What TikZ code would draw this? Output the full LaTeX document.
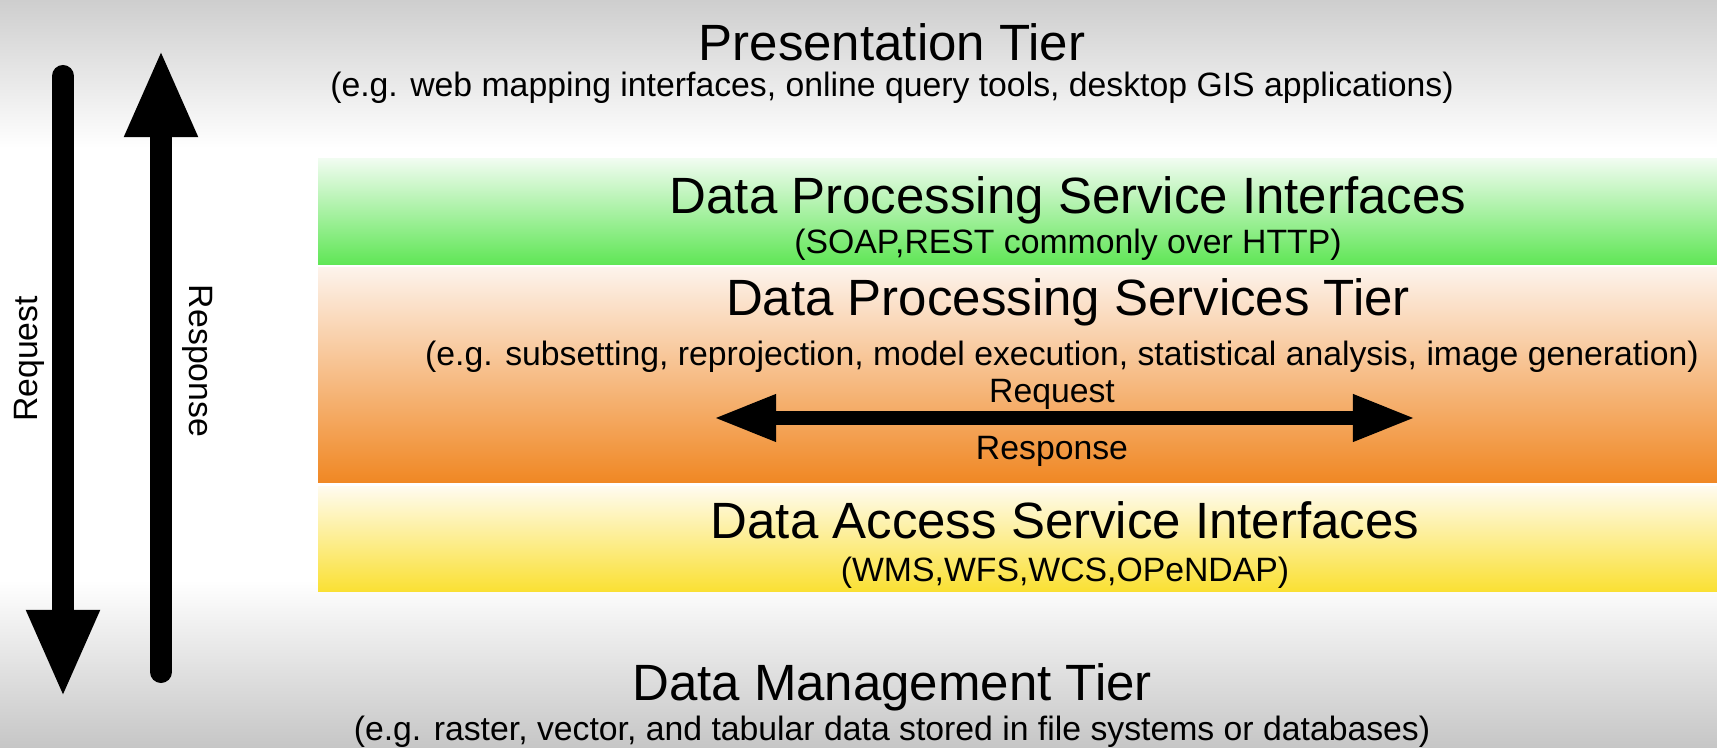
\documentclass[tikz,border=0pt]{standalone}
\usepackage{fontspec}
\setmainfont{Liberation Sans}
\usepackage{tikz}
\usetikzlibrary{arrows.meta}
\tikzset{>=Triangle}

\definecolor{bgtop}{RGB}{206,206,206}
\definecolor{bgbot}{RGB}{198,198,198}
\definecolor{greentop}{RGB}{240,252,240}
\definecolor{greenmid}{RGB}{140,240,140}
\definecolor{greenbot}{RGB}{95,230,85}
\definecolor{orangetop}{RGB}{253,243,235}
\definecolor{orangebot}{RGB}{240,135,35}
\definecolor{yellowtop}{RGB}{255,251,238}
\definecolor{yellowbot}{RGB}{250,224,50}

\begin{document}
\begin{tikzpicture}[x=0.01cm, y=0.01cm,
    big/.style={font=\fontsize{14.5}{16}\selectfont, inner sep=0pt},
    small/.style={font=\fontsize{9.6}{11}\selectfont, inner sep=0pt},
    fat/.style={line width=0.22cm, line cap=round,
      >={Triangle[length=0.88cm, width=0.67cm]}},
    slim/.style={line width=0.13cm,
      >={Triangle[length=0.62cm, width=0.44cm]}}]

      % background
      \useasboundingbox (0,0) rectangle (1717,748);
      \fill[white] (0,0) rectangle (1717,748);
      \shade[top color=bgtop, bottom color=white] (0,600) rectangle (1717,748);
      \shade[top color=white, bottom color=bgbot] (0,0) rectangle (1717,168);

      % bands
      \shade[top color=greentop, middle color=greenmid, bottom color=greenbot] (318,483) rectangle (1717,589);
      \shade[top color=orangetop, bottom color=orangebot] (318,265) rectangle (1717,480);
      \shade[top color=yellowtop, bottom color=yellowbot] (318,156) rectangle (1717,261);

      % tiers
      \node[big]	(T0)	at	(892,706)	{Presentation Tier};
      \node[small]	(T0e)	at	(892,660)	{(e.g. web mapping interfaces, online query tools, desktop GIS applications)};
      \node[big]	(T1)	at	(1068,548)	{Data Processing Service Interfaces};
      \node[small]	(T1e)	at	(1068,503)	{(SOAP,REST commonly over HTTP)};
      \node[big]	(T2)	at	(1068,446)	{Data Processing Services Tier};
      \node[small]	(T2e)	at	(1062,391)	{(e.g. subsetting, reprojection, model execution, statistical analysis, image generation)};
      \node[big]	(T3)	at	(1065,228)	{Data Access Service Interfaces};
      \node[small]	(T3e)	at	(1065,175)	{(WMS,WFS,WCS,OPeNDAP)};
      \node[big]	(T4)	at	(892,61)	{Data Management Tier};
      \node[small]	(T4e)	at	(892,16)	{(e.g. raster, vector, and tabular data stored in file systems or databases)};

      % request / response
      \coordinate	(Q0)	at	(63,672);
      \coordinate	(Q1)	at	(63,50);
      \coordinate	(R0)	at	(161,76);
      \coordinate	(R1)	at	(161,699);
      \coordinate	(H0)	at	(714,330);
      \coordinate	(H1)	at	(1415,330);
      \draw[fat, ->] (Q0) -- (Q1);
      \draw[fat, ->] (R0) -- (R1);
      \draw[slim, <->] (H0) -- (H1);
      \node[small, rotate=90]	(Q)	at	(29,389)	{Request};
      \node[small, rotate=-90]	(R)	at	(198,387)	{Response};
      \node[small]	(HQ)	at	(1052,354)	{Request};
      \node[small]	(HR)	at	(1052,297)	{Response};
\end{tikzpicture}
\end{document}
